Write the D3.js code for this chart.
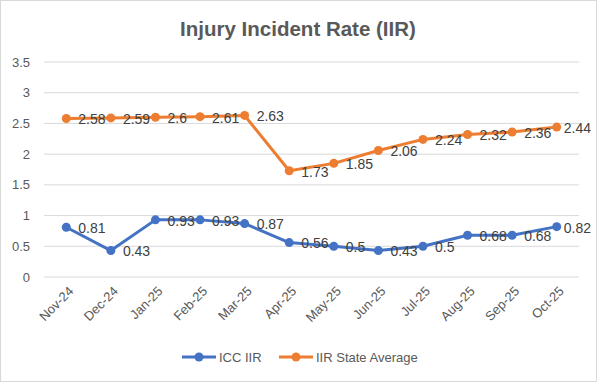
<!DOCTYPE html>
<meta charset="utf-8">
<style>
body { margin: 0; background: #fff; }
svg text { font-family: "Liberation Sans", Arial, sans-serif; }
.title { font-size: 20.5px; font-weight: bold; fill: #595959; }
.tick-label { font-size: 13px; fill: #595959; }
.data-label { font-size: 14px; fill: #404040; }
.legend-elem text { font-size: 13px; fill: #595959; }
</style>
<svg width="597" height="382"></svg>
<script src="https://d3js.org/d3.v7.min.js"></script>
<script>

// Data
var months = ["Nov-24", "Dec-24", "Jan-25", "Feb-25", "Mar-25", "Apr-25",
              "May-25", "Jun-25", "Jul-25", "Aug-25", "Sep-25", "Oct-25"];
var iccIIR = [0.81, 0.43, 0.93, 0.93, 0.87, 0.56, 0.5, 0.43, 0.5, 0.68, 0.68, 0.82];
var stateAvg = [2.58, 2.59, 2.6, 2.61, 2.63, 1.73, 1.85, 2.06, 2.24, 2.32, 2.36, 2.44];
var yTicks = [0, 0.5, 1, 1.5, 2, 2.5, 3, 3.5];
var seriesNames = ["ICC IIR", "IIR State Average"];
var seriesColors = ["#4472C4", "#ED7D31"];

var svg = d3.select("svg");

// chart border
svg.append("rect")
    .attr("x", 0.5).attr("y", 0.5)
    .attr("width", 596).attr("height", 381)
    .attr("fill", "#fff")
    .attr("stroke", "#d9d9d9");

svg.append("text")
    .attr("class", "title")
    .attr("x", 298).attr("y", 36)
    .attr("text-anchor", "middle")
    .text("Injury Incident Rate (IIR)");

// Scales
var x = d3.scaleBand()
    .domain(months)
    .range([44, 579]);

var y = d3.scaleLinear()
    .domain([0, 3.5])
    .range([277, 62]);

// gridlines
svg.append("g")
  .selectAll("line")
  .data(yTicks)
  .join("line")
    .attr("x1", 44).attr("x2", 579)
    .attr("y1", d => y(d)).attr("y2", d => y(d))
    .attr("stroke", "#d9d9d9")
    .attr("stroke-width", 1);

// y labels
svg.append("g")
  .selectAll("text")
  .data(yTicks)
  .join("text")
    .attr("class", "tick-label")
    .attr("x", 30)
    .attr("y", d => y(d))
    .attr("dy", "0.35em")
    .attr("text-anchor", "end")
    .text(d => d);

// x labels (rotated)
svg.append("g")
  .selectAll("text")
  .data(months)
  .join("text")
    .attr("class", "tick-label")
    .attr("text-anchor", "end")
    .attr("transform", d => `translate(${x(d) + x.bandwidth() / 2 + 8},${292}) rotate(-45)`)
    .text(d => d);

var line = d3.line()
    .x((d, i) => x(months[i]) + x.bandwidth() / 2)
    .y(d => y(d));

[iccIIR, stateAvg].forEach(function(values, s) {
  var g = svg.append("g");
  g.append("path")
      .datum(values)
      .attr("d", line)
      .attr("fill", "none")
      .attr("stroke", seriesColors[s])
      .attr("stroke-width", 3)
      .attr("stroke-linejoin", "round");

  g.selectAll("circle")
    .data(values)
    .join("circle")
      .attr("cx", (d, i) => x(months[i]) + x.bandwidth() / 2)
      .attr("cy", d => y(d))
      .attr("r", 4.5)
      .attr("fill", seriesColors[s]);

  g.selectAll(".data-label")
    .data(values)
    .join("text")
      .attr("class", "data-label")
      .attr("x", (d, i) => x(months[i]) + x.bandwidth() / 2 + 12)
      .attr("y", d => y(d))
      .attr("dy", "0.42em")
      .text(d => d)
      .each(function() {
        // keep labels inside the chart, like Excel does
        var w = this.getComputedTextLength();
        var lx = +d3.select(this).attr("x");
        if (lx + w > 591) d3.select(this).attr("x", 591 - w);
      });
});

// Legend
var legendX = [182, 279];
var legend_elems = svg.selectAll(".legend-elem")
  .data(seriesNames)
  .join("g")
    .attr("class", "legend-elem")
    .attr("transform", (d, i) => `translate(${legendX[i]},357)`);

legend_elems.append("line")
    .attr("x1", 0).attr("x2", 34)
    .attr("stroke", (d, i) => seriesColors[i])
    .attr("stroke-width", 3);

legend_elems.append("circle")
    .attr("cx", 17)
    .attr("r", 4.5)
    .attr("fill", (d, i) => seriesColors[i]);

legend_elems.append("text")
    .attr("x", 37)
    .attr("dy", "0.35em")
    .text(d => d);

</script>
